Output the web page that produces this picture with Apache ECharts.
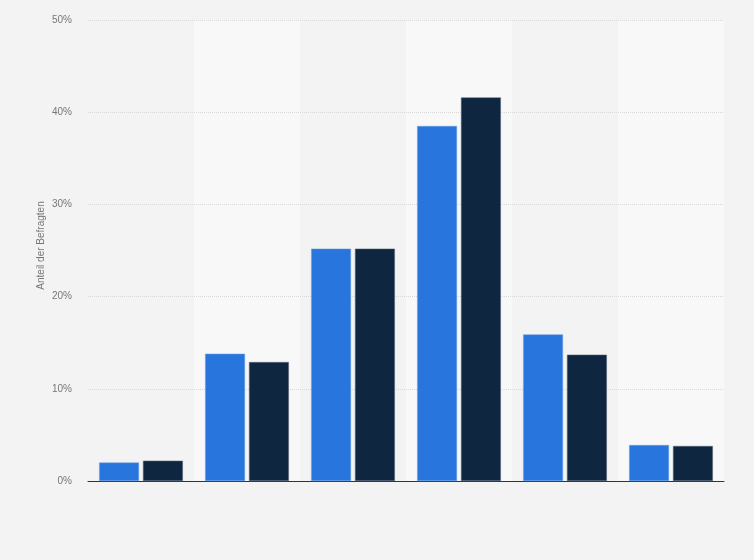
<!DOCTYPE html>
<html>
<head>
<meta charset="utf-8">
<script src="https://cdn.jsdelivr.net/npm/echarts@6/dist/echarts.min.js"></script>
<style>
  html, body { margin: 0; padding: 0; background: #f3f3f3; }
  #main { width: 754px; height: 560px; }
</style>
</head>
<body>
<div id="main"></div>
<script>
// Kategorien (keine Beschriftung sichtbar)
var categories = ['1', '2', '3', '4', '5', '6'];
var seriesA = [2.0, 13.8, 25.2, 38.5, 15.9, 3.9];
var seriesB = [2.2, 12.9, 25.2, 41.6, 13.7, 3.8];
var yTicks = [0, 10, 20, 30, 40, 50];

var myChart = echarts.init(document.getElementById('main'));

var option = {
    backgroundColor: '#f3f3f3',
    animation: false,
    grid: {
        left: 88,
        right: 30,
        top: 20,
        bottom: 79
    },
    xAxis: {
        type: 'category',
        data: categories,
        z: 0,
        axisLine: { lineStyle: { color: '#333', width: 1 } },
        axisTick: { show: false },
        axisLabel: { show: false },
        splitArea: {
            show: true,
            areaStyle: { color: ['#f3f3f3', '#f8f8f8'] }
        }
    },
    yAxis: {
        type: 'value',
        z: 1,
        min: yTicks[0],
        max: yTicks[yTicks.length - 1],
        interval: 10,
        name: 'Anteil der Befragten',
        nameLocation: 'middle',
        nameGap: 42,
        nameMoveOverlap: false,
        nameTextStyle: { color: '#777', fontSize: 10, fontFamily: 'Arial, Liberation Sans', padding: [0, 0, 0, 10] },
        axisLine: { show: false },
        axisTick: { show: false },
        axisLabel: {
            color: '#777',
            fontSize: 10,
            fontFamily: 'Arial, Liberation Sans',
            margin: 16,
            formatter: '{value}%'
        },
        splitLine: {
            showMinLine: false,
            lineStyle: { color: '#d9d9d9', width: 1, type: [1, 1] }
        }
    },
    series: [
        {
            name: 'A',
            type: 'bar',
            z: 2,
            data: seriesA,
            barGap: '10%',
            barCategoryGap: '21%',
            itemStyle: { color: '#2876dd', borderColor: '#6a9fe6', borderWidth: 0.5 }
        },
        {
            name: 'B',
            type: 'bar',
            z: 2,
            data: seriesB,
            itemStyle: { color: '#0f2640', borderColor: '#5a6b7d', borderWidth: 0.5 }
        }
    ]
};

option && myChart.setOption(option);
</script>
</body>
</html>
